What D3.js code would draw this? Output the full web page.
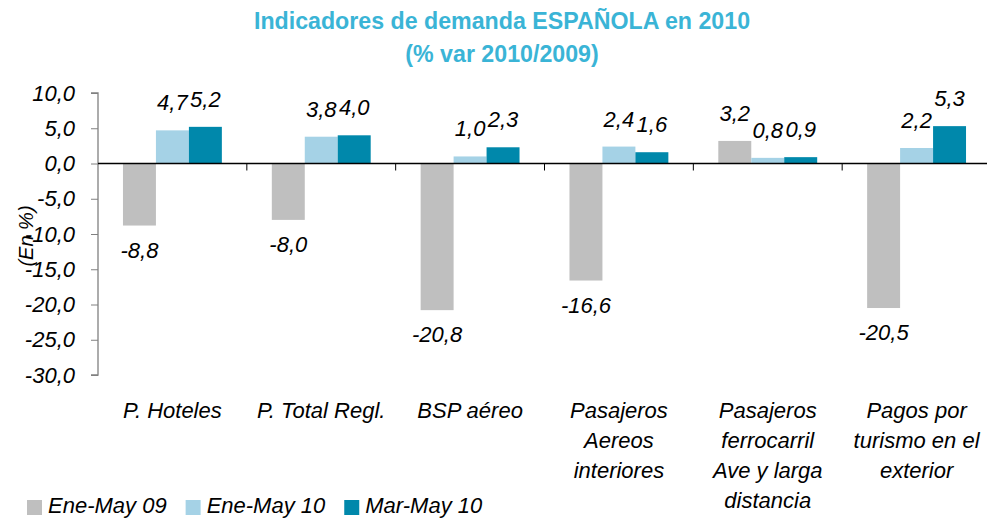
<!DOCTYPE html>
<html>
<head>
<meta charset="utf-8">
<script src="https://cdn.jsdelivr.net/npm/d3@7"></script>
<style>
  body { margin: 0; background: #fff; }
  svg { display: block; font-family: "Liberation Sans", Arial, sans-serif; }
  .lbl { font-style: italic; font-size: 22px; fill: #000; }
  .title { font-weight: bold; font-size: 23.2px; fill: #3ab4d6; }
</style>
</head>
<body>
<svg id="chart" width="987" height="519"></svg>
<script>
// categories (line breaks as in the original)
var categories = [
  'P. Hoteles',
  'P. Total Regl.',
  'BSP aéreo',
  'Pasajeros\nAereos\ninteriores',
  'Pasajeros\nferrocarril\nAve y larga\ndistancia',
  'Pagos por\nturismo en el\nexterior'
];
var series_names = ['Ene-May 09', 'Ene-May 10', 'Mar-May 10'];
var ene_may_09 = [-8.8, -8.0, -20.8, -16.6, 3.2, -20.5];
var ene_may_10 = [4.7, 3.8, 1.0, 2.4, 0.8, 2.2];
var mar_may_10 = [5.2, 4.0, 2.3, 1.6, 0.9, 5.3];
var y_ticks = [10, 5, 0, -5, -10, -15, -20, -25, -30];

var colors = ['#bfbfbf', '#a5d2e6', '#0088ab'];

var svg = d3.select('#chart');

var series = [ene_may_09, ene_may_10, mar_may_10];

var data = categories.map((c,i) => ({
  cat: c,
  values: series.map((s,j) => ({ k: j, v: s[i] }))
}));

var x0 = d3.scaleBand()
  .domain(categories)
  .range([98, 991])
  .paddingInner(50/149)
  .paddingOuter(25/149);

var x1 = d3.scaleBand()
  .domain([0, 1, 2])
  .range([0, x0.bandwidth()]);

var y = d3.scaleLinear()
  .domain([-30, 10])
  .range([375, 93]);

var fmt = (v) => v.toFixed(1).replace('.', ',');

// title
var title = svg.append('text')
  .attr('class', 'title')
  .attr('text-anchor', 'middle')
  .attr('x', 502);
title.append('tspan').attr('x', 502).attr('y', 29).text('Indicadores de demanda ESPAÑOLA en 2010');
title.append('tspan').attr('x', 502).attr('y', 62).text('(% var 2010/2009)');

// bars
var group = svg.selectAll('g.group')
  .data(data).enter()
  .append('g')
  .attr('class', 'group')
  .attr('transform', (d) => `translate(${x0(d.cat)},0)`);

group.selectAll('rect')
  .data((d) => d.values).enter()
  .append('rect')
  .attr('x', (d) => x1(d.k))
  .attr('y', (d) => y(Math.max(0, d.v)))
  .attr('width', x1.bandwidth())
  .attr('height', (d) => Math.abs(y(d.v) - y(0)))
  .style('fill', (d) => colors[d.k]);

group.selectAll('text.lbl')
  .data((d) => d.values).enter()
  .append('text')
  .attr('class', 'lbl')
  .attr('text-anchor', 'middle')
  .attr('x', (d) => x1(d.k) + x1.bandwidth() / 2)
  .attr('y', (d) => d.v >= 0 ? y(d.v) - 20 : y(d.v) + 32)
  .text((d) => fmt(d.v));

// y axis
var y_axis = svg.append('g')
  .attr('transform', 'translate(98,0)')
  .call(d3.axisLeft(y).tickValues(y_ticks).tickSize(7).tickPadding(16).tickFormat(fmt));

y_axis.select('.domain').attr('stroke', '#808080').attr('stroke-width', 1.3)
  .attr('d', 'M-7,' + y(10) + 'H0V' + y(-30) + 'H-7');
y_axis.selectAll('.tick line').attr('stroke', '#808080');
y_axis.selectAll('.tick text')
  .attr('class', 'lbl')
  .attr('font-family', null)
  .attr('font-size', null);

// zero line with category ticks
var x_axis = svg.append('g')
  .attr('transform', `translate(0,${y(0)})`);

x_axis.append('line')
  .attr('x1', 98).attr('x2', 991)
  .attr('stroke', '#000').attr('stroke-width', 1.3);

x_axis.selectAll('line.tk')
  .data(categories.slice(1)).enter()
  .append('line')
  .attr('class', 'tk')
  .attr('x1', (d) => x0(d) - x0.step() * x0.paddingInner() / 2)
  .attr('x2', (d) => x0(d) - x0.step() * x0.paddingInner() / 2)
  .attr('y1', 0).attr('y2', 7)
  .attr('stroke', '#000');

// category labels
var cat_lbl = svg.selectAll('text.cat')
  .data(categories).enter()
  .append('text')
  .attr('class', 'lbl cat')
  .attr('text-anchor', 'middle')
  .attr('y', 418);

cat_lbl.selectAll('tspan')
  .data((d) => d.split('\n').map((t) => ({ t: t, c: d }))).enter()
  .append('tspan')
  .attr('x', (d) => x0(d.c) + x0.bandwidth() / 2)
  .attr('dy', (d,i) => i ? 30 : 0)
  .text((d) => d.t);

// y axis title
svg.append('text')
  .attr('class', 'lbl')
  .attr('text-anchor', 'middle')
  .attr('transform', 'translate(33,236) rotate(-90)')
  .style('font-size', '20px')
  .text('(En %)');

// legend
var lx = 27;
series_names.forEach((name, i) => {
  svg.append('rect')
    .attr('x', lx).attr('y', 500)
    .attr('width', 15).attr('height', 15)
    .style('fill', colors[i]);
  var t = svg.append('text')
    .attr('class', 'lbl')
    .attr('x', lx + 21).attr('y', 513)
    .text(name);
  lx += 21 + t.node().getComputedTextLength() + 19;
});
</script>
</body>
</html>
